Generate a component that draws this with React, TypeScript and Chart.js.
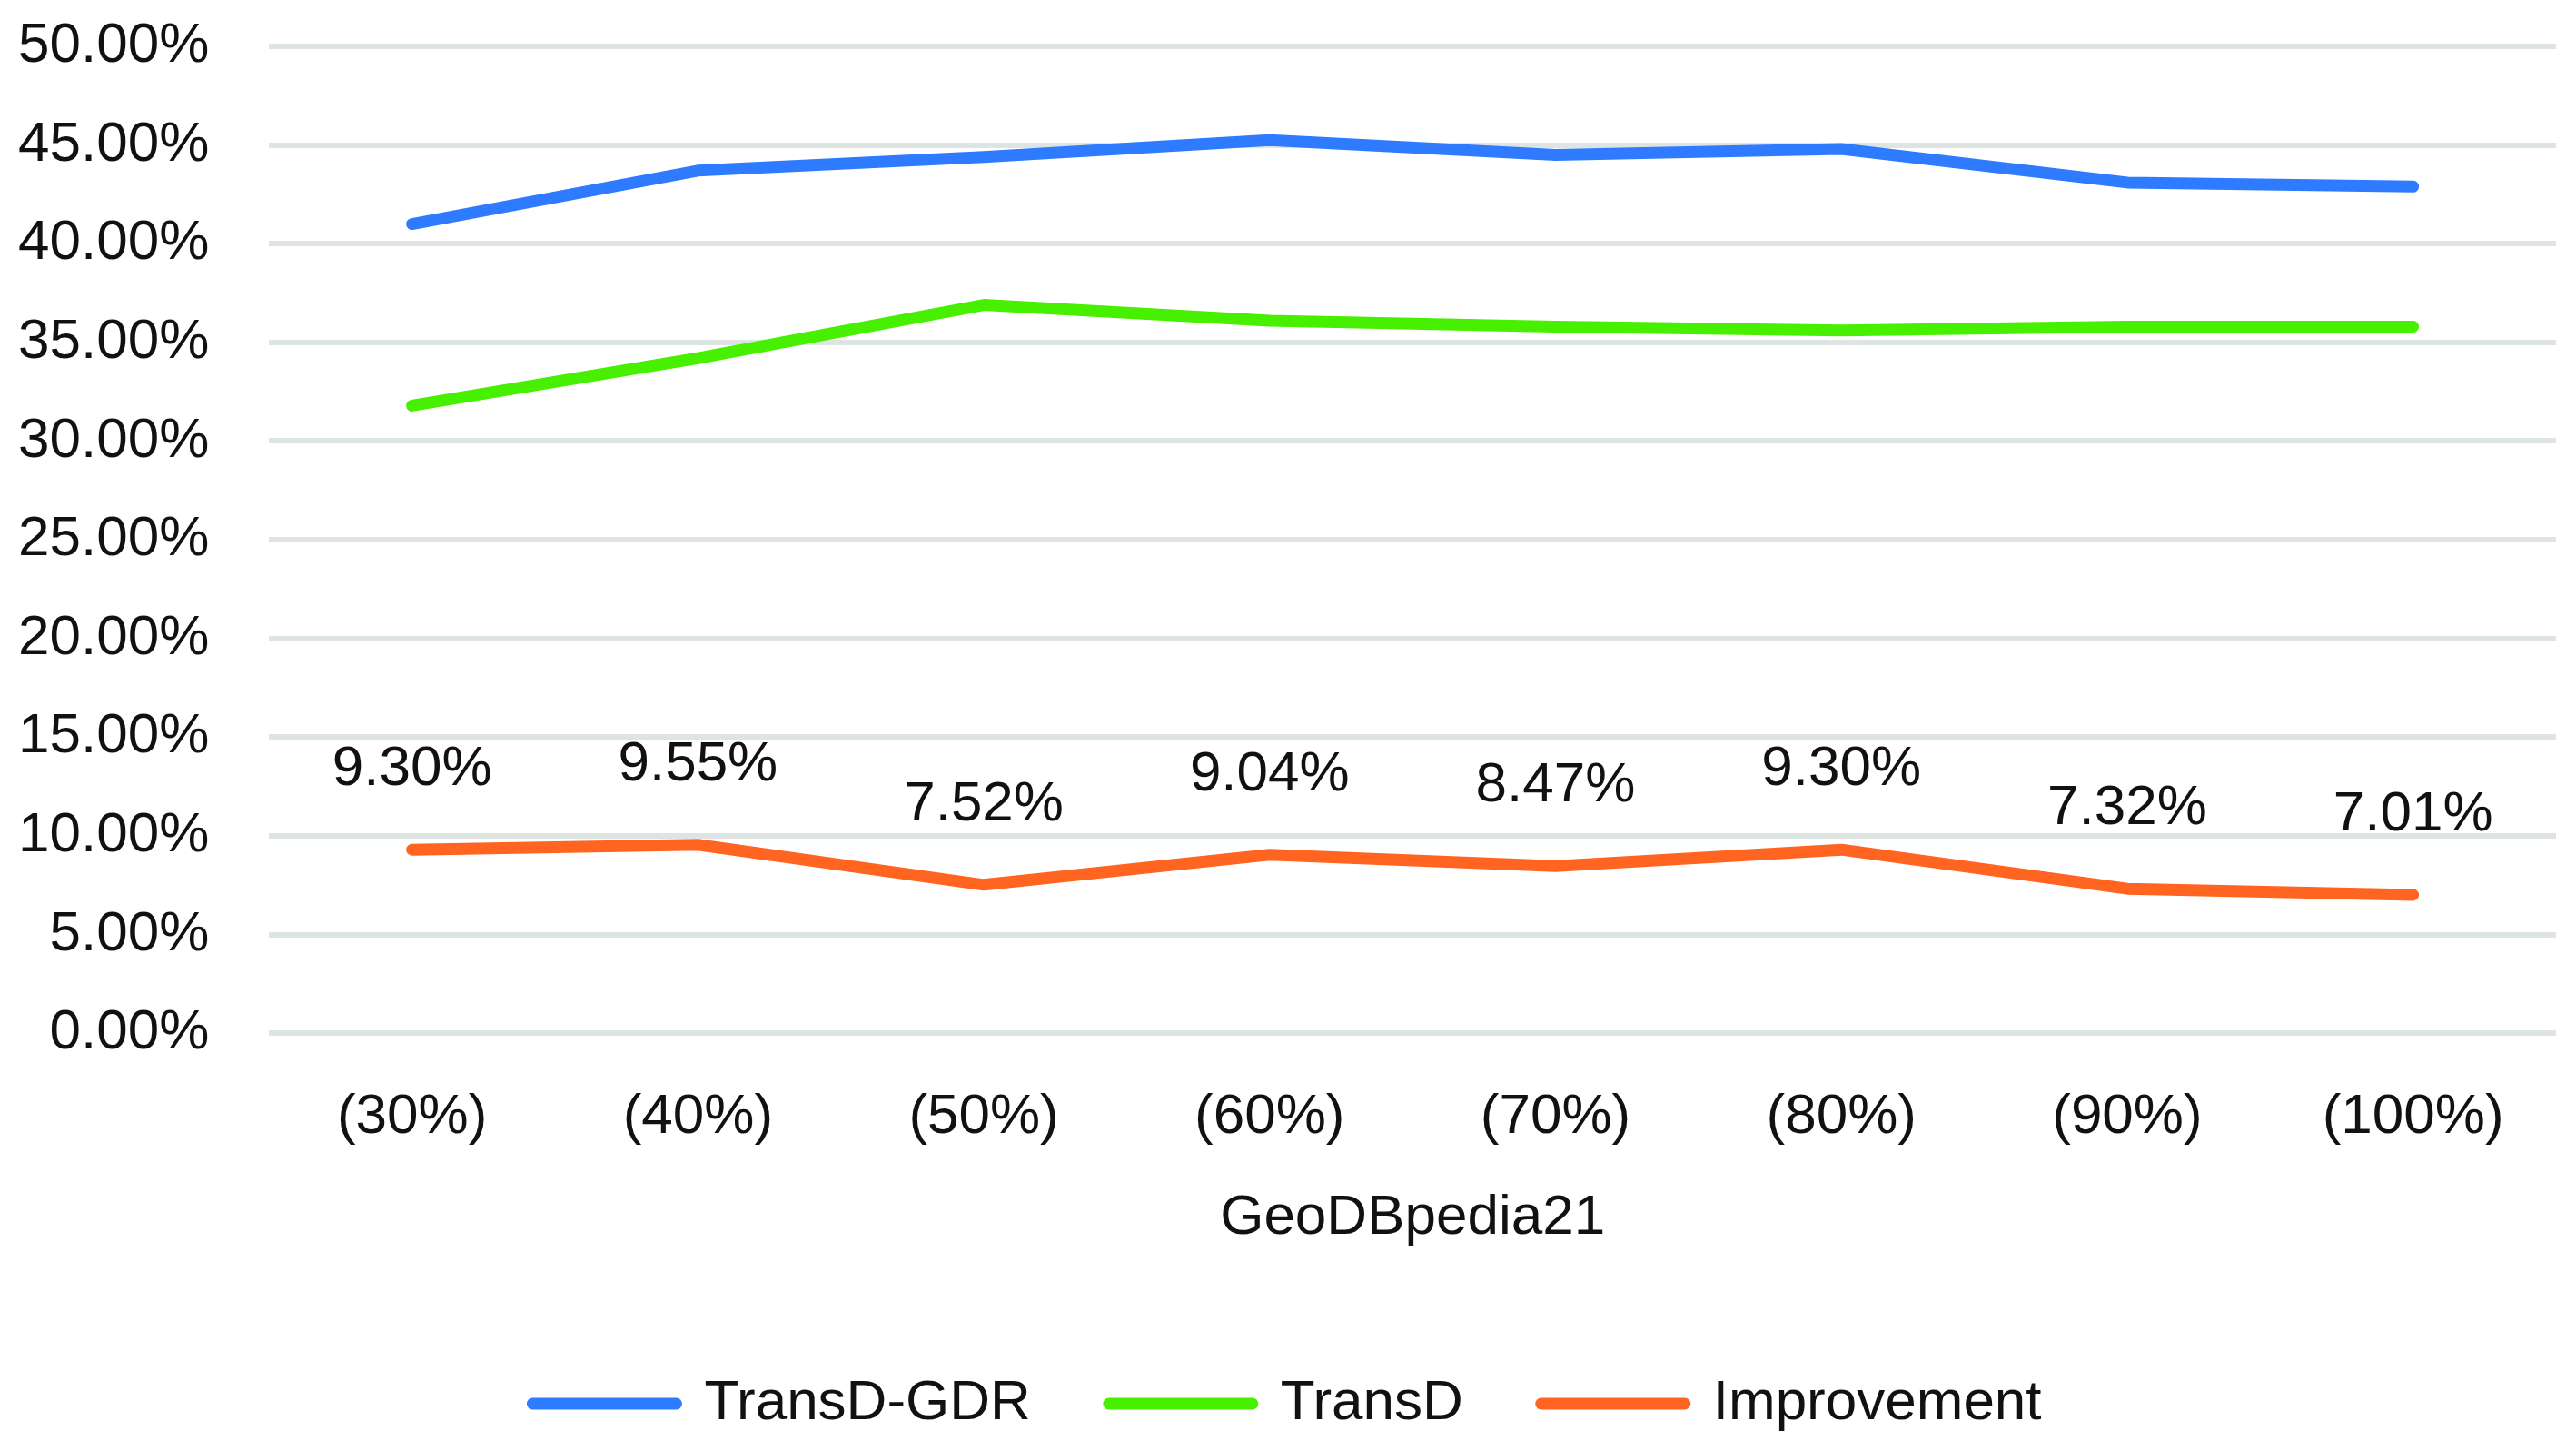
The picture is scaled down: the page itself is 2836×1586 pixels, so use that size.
import { useEffect, useRef } from 'react';
import { Chart, registerables } from 'chart.js';

Chart.register(...registerables);

const categories = ['(30%)', '(40%)', '(50%)', '(60%)', '(70%)', '(80%)', '(90%)', '(100%)'];
const transdGdr = [41.0, 43.7, 44.4, 45.25, 44.5, 44.8, 43.1, 42.9];
const transd = [31.8, 34.2, 36.9, 36.1, 35.8, 35.6, 35.8, 35.8];
const improvement = [9.30, 9.55, 7.52, 9.04, 8.47, 9.30, 7.32, 7.01];
const seriesNames = ['TransD-GDR', 'TransD', 'Improvement'];
const seriesColors = ['#2e7bff', '#47ef00', '#ff6420'];
const xTitle = 'GeoDBpedia21';

const FONT = '"Liberation Sans", Arial, sans-serif';
const FS = 62;
const TEXT = '#111111';

export default function App() {
  const ref = useRef<HTMLCanvasElement>(null);

  useEffect(() => {
    if (!ref.current) return;
    const labelPlugin = {
      id: 'improvementLabels',
      afterDatasetsDraw(chart: any) {
        const meta = chart.getDatasetMeta(2);
        const ctx = chart.ctx;
        ctx.save();
        ctx.font = `${FS}px ${FONT}`;
        ctx.fillStyle = TEXT;
        ctx.textAlign = 'center';
        ctx.textBaseline = 'alphabetic';
        meta.data.forEach((el: any, i: number) => {
          ctx.fillText(improvement[i].toFixed(2) + '%', el.x, el.y - 71);
        });
        ctx.restore();
      },
    };

    const values = [transdGdr, transd, improvement];
    const chart = new Chart(ref.current, {
      type: 'line',
      data: {
        labels: categories,
        datasets: values.map((d, i) => ({
          label: seriesNames[i],
          data: d,
          borderColor: seriesColors[i],
          backgroundColor: seriesColors[i],
          borderWidth: 13,
          borderCapStyle: 'round',
          borderJoinStyle: 'round',
          tension: 0,
          pointRadius: 0,
          pointHoverRadius: 0,
          pointStyle: 'line',
        })),
      },
      options: {
        animation: false,
        responsive: true,
        maintainAspectRatio: false,
        layout: { padding: { left: 20, right: 22, top: 51, bottom: 0 } },
        scales: {
          x: {
            offset: true,
            grid: {
              display: true,
              color: 'rgba(0,0,0,0)',
              drawTicks: true,
              tickLength: 56,
              tickColor: 'rgba(0,0,0,0)',
            },
            border: { display: false },
            ticks: { color: TEXT, font: { family: FONT, size: FS }, padding: 0, maxRotation: 0 },
            title: {
              display: true,
              text: xTitle,
              color: TEXT,
              font: { family: FONT, size: FS },
              padding: { top: 36, bottom: 50 },
            },
          },
          y: {
            min: 0,
            max: 50,
            grid: {
              color: '#dde4e2',
              lineWidth: 6,
              drawTicks: true,
              tickLength: 66,
              tickColor: 'rgba(0,0,0,0)',
            },
            border: { display: false },
            ticks: {
              stepSize: 5,
              color: TEXT,
              font: { family: FONT, size: FS },
              padding: 0,
              callback: (v: any) => Number(v).toFixed(2) + '%',
            },
          },
        },
        plugins: {
          tooltip: { enabled: false },
          legend: {
            position: 'bottom',
            maxHeight: 163,
            labels: {
              color: TEXT,
              font: { family: FONT, size: FS },
              usePointStyle: true,
              pointStyleWidth: 158,
              padding: 86,
              generateLabels: (c: any) =>
                Chart.defaults.plugins.legend.labels.generateLabels(c).map((l: any) => ({
                  ...l,
                  lineCap: 'round',
                  lineWidth: 13,
                  strokeStyle: seriesColors[l.datasetIndex],
                  fillStyle: seriesColors[l.datasetIndex],
                  pointStyle: 'line',
                })),
            },
          },
        },
      } as any,
      plugins: [labelPlugin],
    });
    return () => chart.destroy();
  }, []);

  return (
    <div style={{ position: 'fixed', left: 0, top: 0, width: '100vw', height: '100vh', background: '#fff' }}>
      <canvas ref={ref} />
    </div>
  );
}
